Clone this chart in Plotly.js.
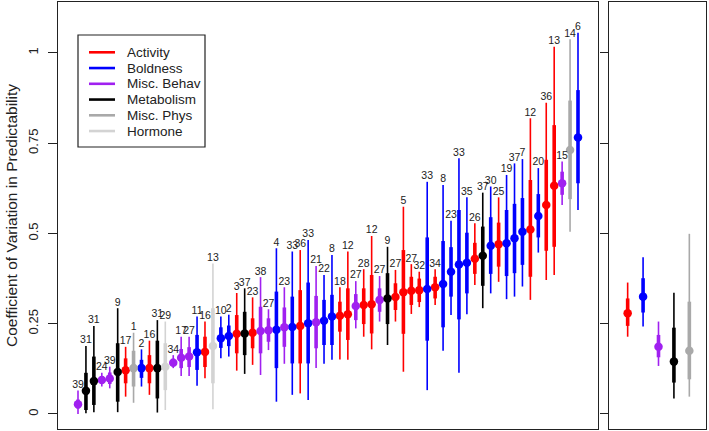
<!DOCTYPE html>
<html>
<head>
<meta charset="utf-8">
<script src="https://cdn.plot.ly/plotly-3.0.1.min.js"></script>
<style>html,body{margin:0;padding:0;background:#fff;}#chart{width:709px;height:431px;}</style>
</head>
<body>
<div id="chart"></div>
<script>
// Groups
const groupNames = ["Activity", "Boldness", "Misc. Behav", "Metabolism", "Misc. Phys", "Hormone"];
const groupColors = ["#FF0000", "#0000FF", "#A020F0", "#000000", "#A9A9A9", "#D3D3D3"];

// Main panel: one entry per estimate, sorted by estimate
const pointGroup = [2,3,3,2,2,3,0,4,1,0,3,5,2,2,2,1,0,5,1,1,0,3,0,2,2,1,2,1,0,1,2,1,1,0,0,2,0,0,2,3,0,0,0,0,1,0,1,1,1,1,0,3,1,0,1,1,1,0,1,0,0,2,4,1];
const pointLabel = ["39","31","31","24","39","9","17","1","2","16","31","29","34","17","27","11","16","13","10","2","3","37","23","38","27","4","23","33","36","33","21","22","8","18","12","27","28","12","27","9","27","5","27","32","33","34","8","23","33","35","26","37","30","25","19","37","7","12","20","36","13","15","14","6"];
const estimate = [0.027,0.064,0.091,0.094,0.098,0.116,0.121,0.127,0.127,0.127,0.127,0.131,0.142,0.156,0.159,0.171,0.172,0.188,0.210,0.216,0.222,0.223,0.225,0.230,0.232,0.233,0.240,0.241,0.244,0.251,0.254,0.258,0.270,0.272,0.276,0.299,0.302,0.304,0.316,0.320,0.324,0.337,0.341,0.343,0.346,0.351,0.360,0.394,0.414,0.419,0.430,0.438,0.466,0.470,0.473,0.487,0.505,0.511,0.548,0.579,0.632,0.639,0.731,0.766];
const ci95Low = [0.000,0.002,0.005,0.076,0.071,0.005,0.048,0.031,0.076,0.053,0.004,0.011,0.127,0.105,0.105,0.078,0.099,0.013,0.154,0.159,0.120,0.111,0.136,0.108,0.177,0.034,0.139,0.053,0.057,0.039,0.127,0.139,0.150,0.151,0.150,0.237,0.214,0.179,0.256,0.191,0.256,0.117,0.277,0.296,0.066,0.302,0.175,0.274,0.114,0.276,0.357,0.293,0.334,0.366,0.318,0.325,0.353,0.316,0.447,0.371,0.385,0.579,0.505,0.565];
const ci95High = [0.065,0.188,0.244,0.114,0.131,0.293,0.186,0.225,0.179,0.203,0.260,0.256,0.163,0.214,0.214,0.270,0.256,0.417,0.270,0.275,0.335,0.348,0.323,0.379,0.290,0.459,0.351,0.450,0.454,0.482,0.410,0.385,0.440,0.351,0.450,0.368,0.401,0.493,0.382,0.463,0.399,0.574,0.415,0.394,0.643,0.401,0.634,0.535,0.708,0.600,0.528,0.613,0.630,0.600,0.662,0.694,0.706,0.819,0.681,0.862,1.017,0.699,1.038,1.056];
const ci50Low = [0.015,0.011,0.025,0.085,0.083,0.034,0.085,0.076,0.100,0.085,0.043,0.066,0.133,0.127,0.130,0.122,0.130,0.085,0.183,0.188,0.168,0.163,0.182,0.168,0.200,0.127,0.186,0.140,0.140,0.140,0.182,0.191,0.191,0.228,0.205,0.260,0.249,0.223,0.283,0.249,0.288,0.222,0.302,0.310,0.203,0.320,0.240,0.325,0.262,0.334,0.388,0.355,0.388,0.408,0.382,0.390,0.413,0.380,0.489,0.452,0.463,0.607,0.595,0.639];
const ci50High = [0.040,0.114,0.159,0.105,0.115,0.196,0.154,0.175,0.150,0.163,0.203,0.196,0.153,0.180,0.185,0.219,0.214,0.293,0.240,0.245,0.274,0.283,0.265,0.297,0.265,0.339,0.295,0.325,0.343,0.364,0.327,0.316,0.330,0.311,0.348,0.332,0.348,0.385,0.348,0.390,0.362,0.454,0.380,0.375,0.489,0.380,0.479,0.462,0.565,0.502,0.474,0.519,0.545,0.530,0.565,0.582,0.598,0.648,0.609,0.704,0.800,0.671,0.868,0.897];

// Right panel: overall estimate per group
const overallGroup = [0, 1, 2, 3, 4];
const overallEstimate = [0.279, 0.325, 0.186, 0.145, 0.175];
const overall95Low = [0.214, 0.242, 0.133, 0.043, 0.048];
const overall95High = [0.364, 0.434, 0.256, 0.336, 0.499];
const overall50Low = [0.244, 0.281, 0.157, 0.087, 0.096];
const overall50High = [0.320, 0.376, 0.219, 0.239, 0.311];

const yTicks = [0, 0.25, 0.5, 0.75, 1];
const yTickText = ["0", "0.25", "0.5", "0.75", "1"];

const FONT = "Liberation Sans, Arial, Helvetica, sans-serif";
const traces = [];

function addGroupTraces(idxs, xs, est, lo95, hi95, lo50, hi50, color, xa, ya) {
  if (!idxs.length) return;
  const x = idxs.map(i => xs[i]);
  const y = idxs.map(i => est[i]);
  traces.push({
    type: "scatter", mode: "markers", x: x, y: y, xaxis: xa, yaxis: ya,
    marker: {size: 1, color: "rgba(0,0,0,0)"}, showlegend: false, hoverinfo: "skip",
    error_y: {type: "data", symmetric: false, array: idxs.map(i => hi95[i] - est[i]),
      arrayminus: idxs.map(i => est[i] - lo95[i]), width: 0, thickness: 1.6, color: color}
  });
  traces.push({
    type: "scatter", mode: "markers", x: x, y: y, xaxis: xa, yaxis: ya,
    marker: {size: 8.5, color: color, line: {width: 0}}, showlegend: false,
    error_y: {type: "data", symmetric: false, array: idxs.map(i => hi50[i] - est[i]),
      arrayminus: idxs.map(i => est[i] - lo50[i]), width: 0, thickness: 3.6, color: color}
  });
}

const xMain = estimate.map((_, i) => i + 1);
groupNames.forEach((g, gi) => {
  const idxs = pointGroup.map((pg, i) => pg === gi ? i : -1).filter(i => i >= 0);
  addGroupTraces(idxs, xMain, estimate, ci95Low, ci95High, ci50Low, ci50High, groupColors[gi], "x", "y");
});

// Labels above the 95% intervals
traces.push({
  type: "scatter", mode: "text", x: xMain, y: ci95High, text: pointLabel,
  textposition: "top center", textfont: {size: 10.5, color: "#222", family: FONT},
  showlegend: false, hoverinfo: "skip", xaxis: "x", yaxis: "y"
});

// Right panel
const xOverall = overallEstimate.map((_, i) => i + 1);
overallGroup.forEach((gi, k) => {
  addGroupTraces([k], xOverall, overallEstimate, overall95Low, overall95High, overall50Low, overall50High, groupColors[gi], "x2", "y2");
});

// Legend (drawn as a boxed key, R-style)
const PW = 648, PH = 427, L = 58, T = 2;
const px = v => (v - L) / PW;
const py = v => (T + PH - v) / PH;
const shapes = [{type: "rect", xref: "paper", yref: "paper", x0: px(78), x1: px(205), y0: py(147), y1: py(35),
  line: {color: "#222", width: 1.2}, fillcolor: "#fff", layer: "above"}];
const annotations = [];
groupNames.forEach((g, gi) => {
  const rowY = 52.3 + gi * 15.75;
  shapes.push({type: "line", xref: "paper", yref: "paper", x0: px(89), x1: px(115), y0: py(rowY), y1: py(rowY),
    line: {color: groupColors[gi], width: 2.6}, layer: "above"});
  annotations.push({xref: "paper", yref: "paper", x: px(125), y: py(rowY), xanchor: "left", yanchor: "middle",
    text: g, showarrow: false, font: {size: 13.5, family: FONT, color: "#222"}});
});

const yRange = [-0.0416, 1.141];
const axisCommon = {showgrid: false, zeroline: false, showline: true, mirror: true, linecolor: "#222", linewidth: 1.3};

const layout = {
  width: 709, height: 431,
  margin: {l: 58, r: 3, t: 2, b: 2},
  paper_bgcolor: "#fff", plot_bgcolor: "#fff",
  font: {family: FONT, color: "#222"},
  showlegend: false,
  shapes: shapes,
  annotations: annotations,
  xaxis: Object.assign({}, axisCommon, {domain: [0, 540/648], range: [-1.52, 66.52], showticklabels: false, ticks: "", anchor: "y"}),
  xaxis2: Object.assign({}, axisCommon, {domain: [551/648, 1], range: [-0.21, 6.08], showticklabels: false, ticks: "", anchor: "y2"}),
  yaxis: Object.assign({}, axisCommon, {range: yRange, anchor: "x", tickvals: yTicks, ticktext: yTickText,
    ticks: "outside", ticklen: 9, tickwidth: 1, tickcolor: "#222", tickangle: -90, ticklabelstandoff: 5,
    tickfont: {size: 13, family: FONT, color: "#222"},
    title: {text: "Coefficient of Variation in Predictability", font: {size: 15.5, family: FONT, color: "#222"}, standoff: 4}}),
  yaxis2: Object.assign({}, axisCommon, {range: yRange, anchor: "x2", tickvals: yTicks, showticklabels: false,
    ticks: "outside", ticklen: 8, tickwidth: 1, tickcolor: "#222"})
};

Plotly.newPlot("chart", traces, layout, {displayModeBar: false, staticPlot: true});
</script>
</body>
</html>
